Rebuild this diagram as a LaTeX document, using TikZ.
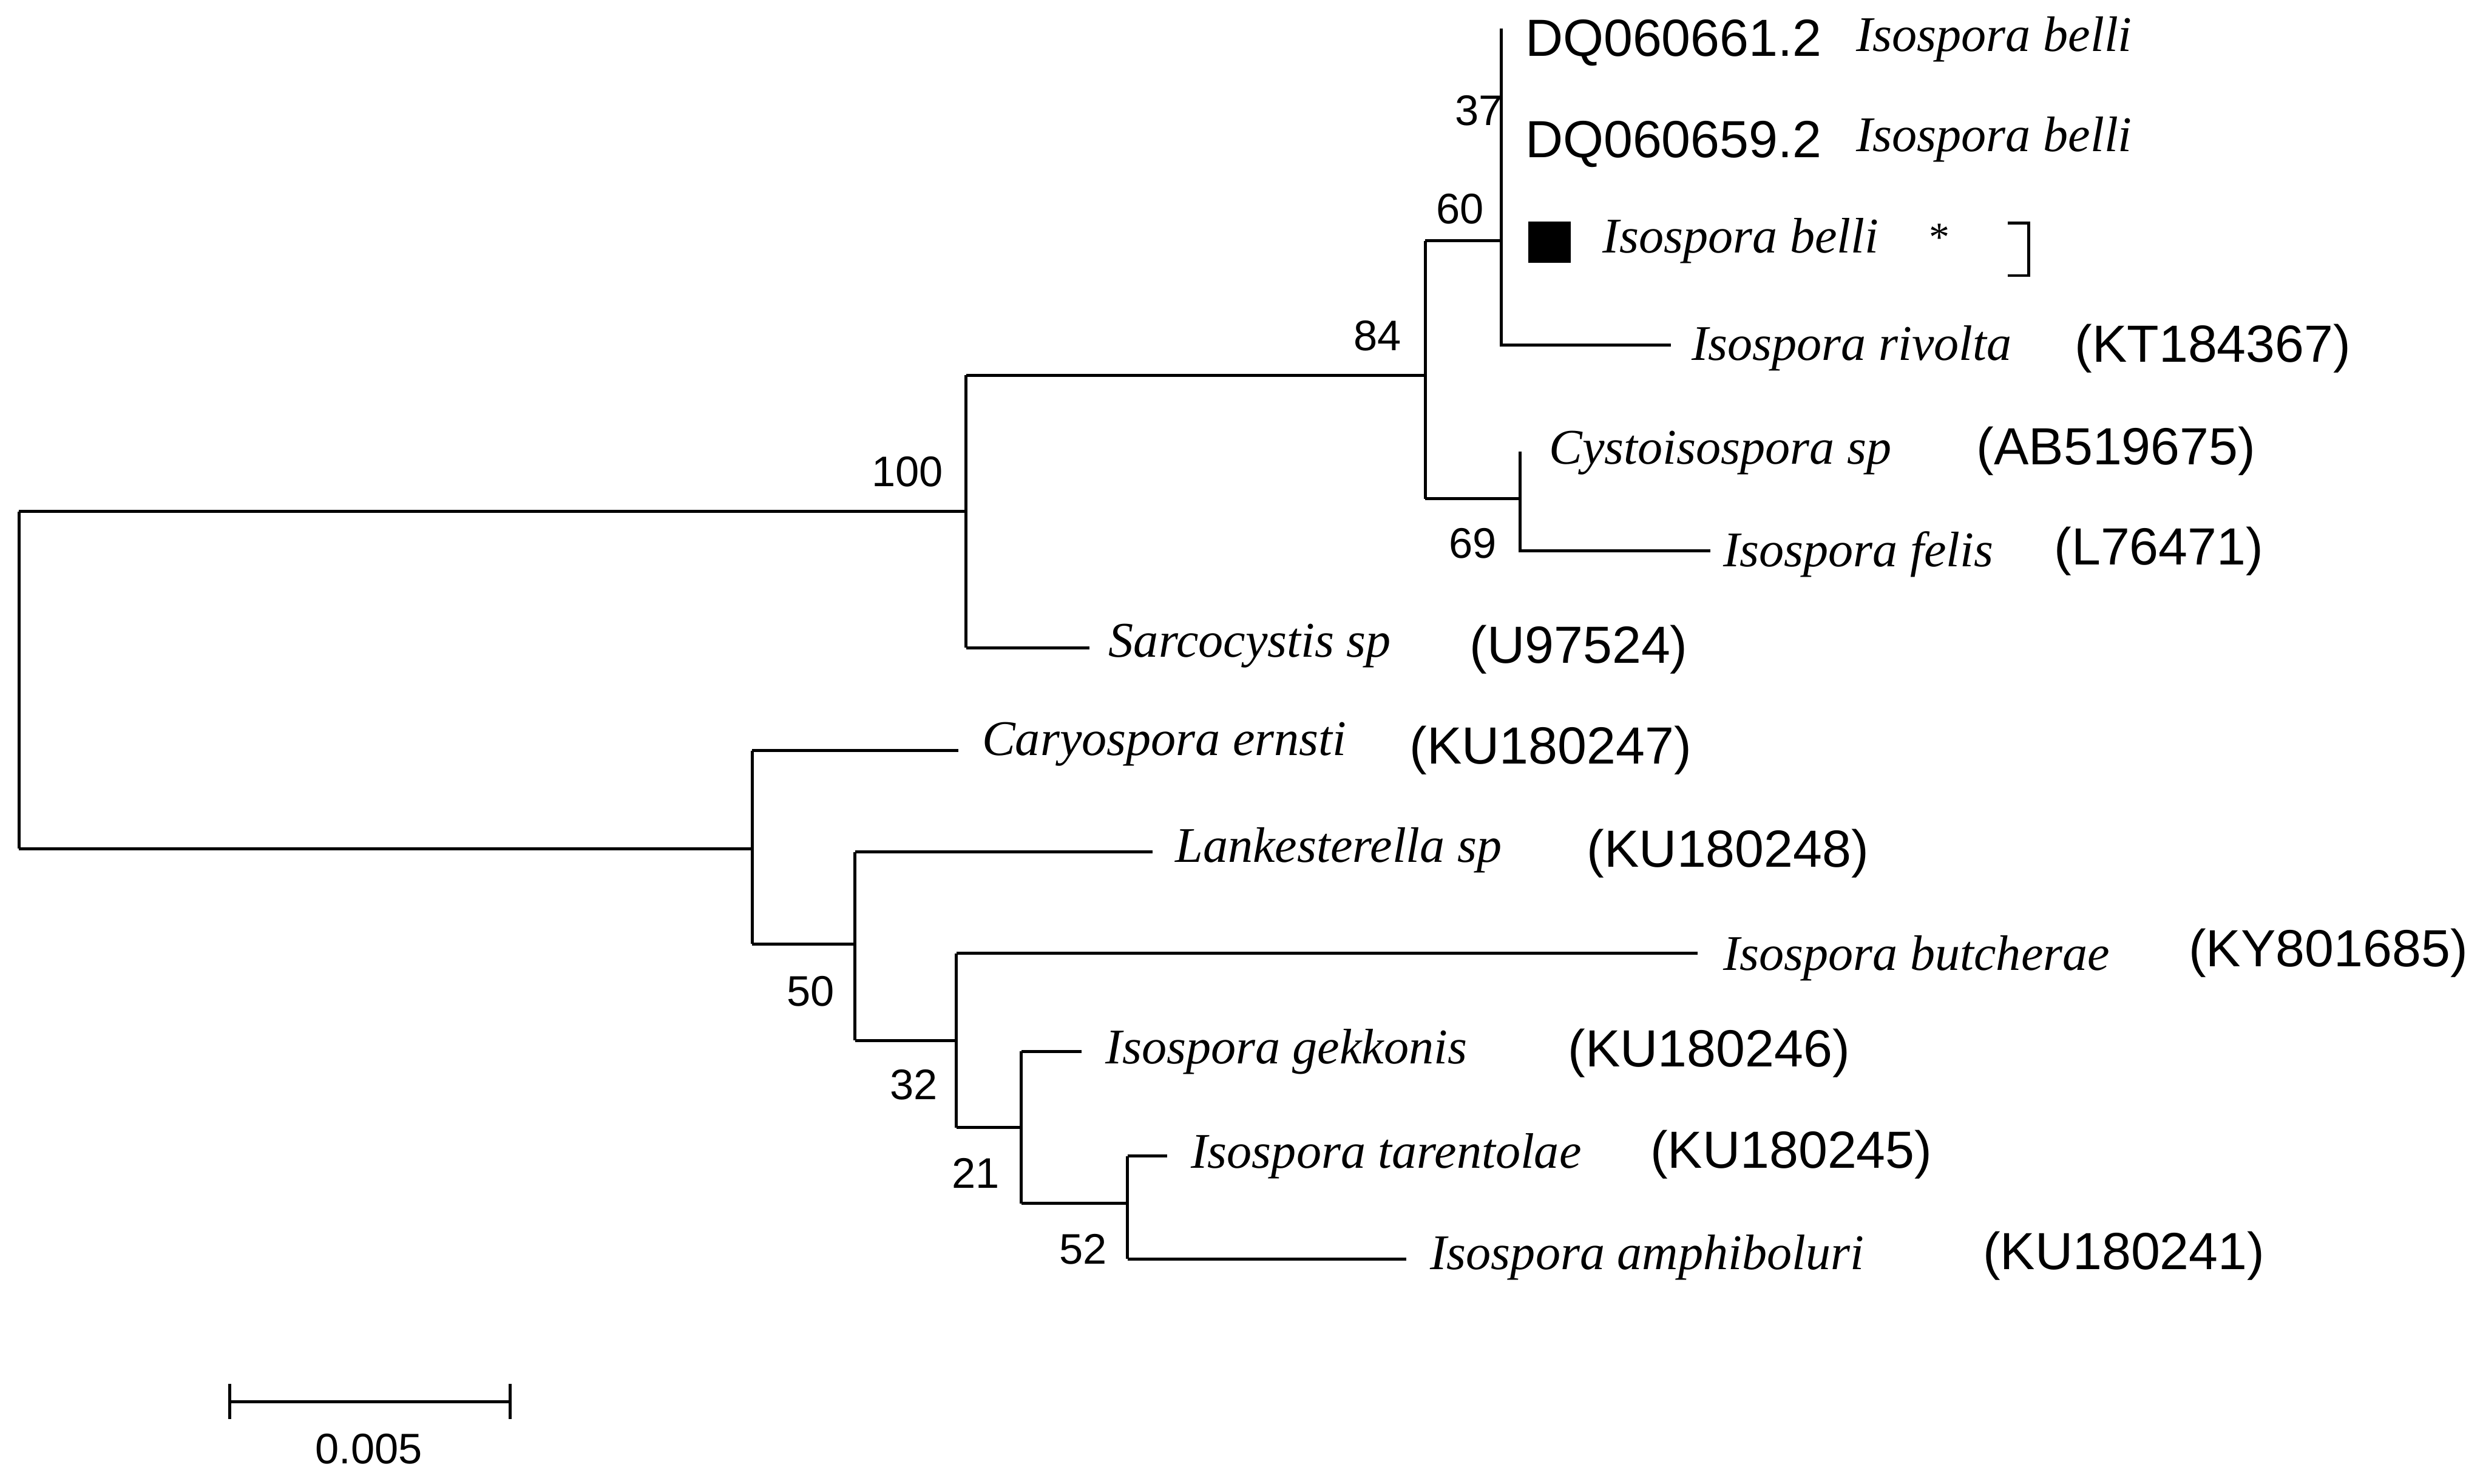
\documentclass[tikz,border=0pt]{standalone}
\usepackage{fontspec}
\setmainfont{Liberation Serif}
\newfontfamily\arial{Liberation Sans}
\begin{document}
\begin{tikzpicture}[x=1pt,y=-1pt,
  br/.style={line width=1.9pt},
  sp/.style={anchor=west,inner sep=0pt,font=\fontsize{31.5}{31.5}\selectfont\itshape},
  acc/.style={anchor=west,inner sep=0pt,font=\fontsize{33}{33}\selectfont\arial},
  bs/.style={inner sep=0pt,font=\fontsize{27}{27}\selectfont\arial}]
\useasboundingbox (0,0) rectangle (1568,937);
% tree
\draw[br] (12,323) -- (12,536);
\draw[br] (12,323) -- (610,323);
\draw[br] (610,237) -- (610,409);
\draw[br] (610,237) -- (900,237);
\draw[br] (900,152) -- (900,315);
\draw[br] (900,152) -- (948,152);
\draw[br] (948,18) -- (948,218) -- (1055,218);
\draw[br] (900,315) -- (960,315);
\draw[br] (960,285) -- (960,348) -- (1080,348);
\draw[br] (610,409) -- (688,409);
\draw[br] (12,536) -- (475,536);
\draw[br] (475,474) -- (475,596);
\draw[br] (475,474) -- (605,474);
\draw[br] (475,596) -- (540,596);
\draw[br] (540,538) -- (540,657);
\draw[br] (540,538) -- (728,538);
\draw[br] (540,657) -- (604,657);
\draw[br] (604,602) -- (604,712);
\draw[br] (604,602) -- (1072,602);
\draw[br] (604,712) -- (645,712);
\draw[br] (645,664) -- (645,760);
\draw[br] (645,664) -- (683,664);
\draw[br] (645,760) -- (712,760);
\draw[br] (712,730) -- (712,795);
\draw[br] (712,730) -- (737,730);
\draw[br] (712,795) -- (888,795);
% bootstrap
\node[bs] (b100) at (573,298) {100};
\node[bs] (b84) at (870,212) {84};
\node[bs] (b37) at (934,70) {37};
\node[bs] (b60) at (922,132) {60};
\node[bs] (b69) at (930,343) {69};
\node[bs] (b50) at (512,626) {50};
\node[bs] (b32) at (577,685) {32};
\node[bs] (b21) at (616,741) {21};
\node[bs] (b52) at (684,789) {52};
% tips
\node[acc] (a1) at (963,27) {DQ060661.2};
\node[sp] (s1) at (1172,25) {Isospora belli};
\node[acc] (a2) at (963,91) {DQ060659.2};
\node[sp] (s2) at (1172,88) {Isospora belli};
\fill (965,140) rectangle (992,166);
\node[sp] (s3) at (1012,152) {Isospora belli};
\node[anchor=west,inner sep=0pt,font=\fontsize{26}{26}\selectfont] (st) at (1218,150) {*};
\draw[line width=1.9pt] (1268,141) -- (1281,141) -- (1281,174) -- (1268,174);
\node[sp] (s4) at (1068,220) {Isospora rivolta};
\node[acc] (a4) at (1310,220) {(KT184367)};
\node[sp] (s5) at (978,286) {Cystoisospora sp};
\node[acc] (a5) at (1248,285) {(AB519675)};
\node[sp] (s6) at (1088,350) {Isospora felis};
\node[acc] (a6) at (1297,348) {(L76471)};
\node[sp] (s7) at (700,408) {Sarcocystis sp};
\node[acc] (a7) at (928,410) {(U97524)};
\node[sp] (s8) at (620,470) {Caryospora ernsti};
\node[acc] (a8) at (890,474) {(KU180247)};
\node[sp] (s9) at (742,537) {Lankesterella sp};
\node[acc] (a9) at (1002,539) {(KU180248)};
\node[sp] (s10) at (1088,605) {Isospora butcherae};
\node[acc] (a10) at (1382,602) {(KY801685)};
\node[sp] (s11) at (698,664) {Isospora gekkonis};
\node[acc] (a11) at (990,665) {(KU180246)};
\node[sp] (s12) at (752,730) {Isospora tarentolae};
\node[acc] (a12) at (1042,729) {(KU180245)};
\node[sp] (s13) at (903,794) {Isospora amphiboluri};
\node[acc] (a13) at (1252,793) {(KU180241)};
% scale bar
\draw[br] (145,885) -- (322,885);
\draw[br] (145,874) -- (145,896);
\draw[br] (322,874) -- (322,896);
\node[bs] (sc) at (233,915) {0.005};
\end{tikzpicture}
\end{document}
